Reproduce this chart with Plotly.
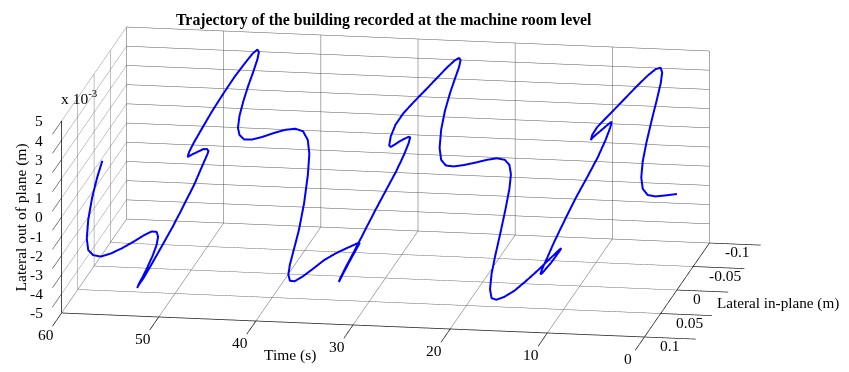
import plotly.graph_objects as go

# Time (s)
time_s = [
    0.00, 0.32, 0.65, 0.97, 1.30, 1.62, 1.95, 2.27, 2.59, 2.92, 3.24, 3.57, 3.89, 4.22, 4.54, 4.86,
    5.19, 5.51, 5.84, 6.16, 6.49, 6.81, 7.14, 7.46, 7.78, 8.11, 8.43, 8.76, 9.08, 9.41, 9.73, 10.05,
    10.38, 10.70, 11.03, 11.35, 11.68, 12.00, 12.32, 12.65, 12.97, 13.30, 13.62, 13.95, 14.27, 14.59, 14.92, 15.24,
    15.57, 15.89, 16.22, 16.54, 16.86, 17.19, 17.51, 17.84, 18.16, 18.49, 18.81, 19.14, 19.46, 19.78, 20.11, 20.43,
    20.76, 21.08, 21.41, 21.73, 22.05, 22.38, 22.70, 23.03, 23.35, 23.68, 24.00, 24.32, 24.65, 24.97, 25.30, 25.62,
    25.95, 26.27, 26.59, 26.92, 27.24, 27.57, 27.89, 28.22, 28.54, 28.86, 29.19, 29.51, 29.84, 30.16, 30.49, 30.81,
    31.14, 31.46, 31.78, 32.11, 32.43, 32.76, 33.08, 33.41, 33.73, 34.05, 34.38, 34.70, 35.03, 35.35, 35.68, 36.00,
    36.32, 36.65, 36.97, 37.30, 37.62, 37.95, 38.27, 38.59, 38.92, 39.24, 39.57, 39.89, 40.22, 40.54, 40.86, 41.19,
    41.51, 41.84, 42.16, 42.49, 42.81, 43.14, 43.46, 43.78, 44.11, 44.43, 44.76, 45.08, 45.41, 45.73, 46.05, 46.38,
    46.70, 47.03, 47.35, 47.68, 48.00, 48.32, 48.65, 48.97, 49.30, 49.62, 49.95, 50.27, 50.59, 50.92, 51.24, 51.57,
    51.89, 52.22, 52.54, 52.86, 53.19, 53.51, 53.84, 54.16, 54.49, 54.81, 55.14, 55.46, 55.78, 56.11, 56.43, 56.76,
    57.08, 57.41, 57.73, 58.05, 58.38, 58.70, 59.03, 59.35, 59.68, 60.00,
]

# Lateral in-plane displacement (m)
lateral_in_plane_m = [
    0, 0.0254, 0.047, 0.0613, 0.0664, 0.0613, 0.047, 0.0254, 0, -0.0254, -0.047, -0.0613, -0.0664, -0.0613, -0.047, -0.0254,
    0, 0.0254, 0.047, 0.0613, 0.0664, 0.0613, 0.047, 0.0254, 0, -0.0254, -0.047, -0.0613, -0.0664, -0.0613, -0.047, -0.0254,
    0, 0.0254, 0.047, 0.0613, 0.0664, 0.0613, 0.047, 0.0254, 0, -0.0254, -0.047, -0.0613, -0.0664, -0.0613, -0.047, -0.0254,
    0, 0.0254, 0.047, 0.0613, 0.0664, 0.0613, 0.047, 0.0254, 0, -0.0254, -0.047, -0.0613, -0.0664, -0.0613, -0.047, -0.0254,
    0, 0.0254, 0.047, 0.0613, 0.0664, 0.0613, 0.047, 0.0254, 0, -0.0254, -0.047, -0.0613, -0.0664, -0.0613, -0.047, -0.0254,
    0, 0.0254, 0.047, 0.0613, 0.0664, 0.0613, 0.047, 0.0254, 0, -0.0254, -0.047, -0.0613, -0.0664, -0.0613, -0.047, -0.0254,
    0, 0.0254, 0.047, 0.0613, 0.0664, 0.0613, 0.047, 0.0254, 0, -0.0254, -0.047, -0.0613, -0.0664, -0.0613, -0.047, -0.0254,
    0, 0.0254, 0.047, 0.0613, 0.0664, 0.0613, 0.047, 0.0254, 0, -0.0254, -0.047, -0.0613, -0.0664, -0.0613, -0.047, -0.0254,
    0, 0.0254, 0.047, 0.0613, 0.0664, 0.0613, 0.047, 0.0254, 0, -0.0254, -0.047, -0.0613, -0.0664, -0.0613, -0.047, -0.0254,
    0, 0.0254, 0.047, 0.0613, 0.0664, 0.0613, 0.047, 0.0254, 0, -0.0254, -0.047, -0.0613, -0.0664, -0.0613, -0.047, -0.0254,
    0, 0.0254, 0.047, 0.0613, 0.0664, 0.0613, 0.047, 0.0254, 0, -0.0254, -0.047, -0.0613, -0.0664, -0.0613, -0.047, -0.0254,
    0, 0.0254, 0.047, 0.0613, 0.0664, 0.0613, 0.047, 0.0254, 0, -0.0254,
]

# Lateral out-of-plane displacement (x 10^-3 m)
lateral_out_of_plane_e3 = [
    0.00, 0.54, 1.01, 1.43, 1.87, 2.33, 2.80, 3.30, 3.80, 4.22, 4.55, 4.75, 4.87, 4.92, 4.94, 4.95,
    4.95, 4.95, 4.93, 4.85, 4.58, 4.17, 3.92, 3.57, 3.16, 2.76, 2.39, 2.07, 1.65, 1.10, 0.55, 0.08,
    -0.39, -0.96, -1.54, -2.11, -2.55, -2.93, -3.24, -3.54, -3.86, -4.13, -4.38, -4.62, -4.80, -4.92, -4.96, -4.95,
    -4.87, -4.75, -4.55, -4.35, -4.15, -3.83, -3.38, -2.93, -2.38, -1.78, -1.25, -0.88, -0.52, -0.13, 0.29, 0.73,
    1.20, 1.69, 2.14, 2.53, 2.94, 3.43, 4.02, 4.48, 4.78, 4.92, 4.96, 4.97, 4.95, 4.92, 4.88, 4.85,
    4.84, 4.85, 4.80, 4.55, 4.05, 3.45, 3.02, 2.60, 2.15, 1.66, 1.22, 0.84, 0.40, -0.10, -0.62, -1.08,
    -1.58, -2.12, -2.62, -3.05, -3.43, -3.76, -3.98, -4.12, -4.24, -4.38, -4.56, -4.76, -4.90, -4.90, -4.74, -4.47,
    -4.20, -4.05, -3.92, -3.82, -3.68, -3.48, -3.32, -3.08, -2.70, -1.95, -1.00, -0.25, 0.35, 0.92, 1.40, 1.86,
    2.31, 2.72, 3.11, 3.45, 3.81, 4.04, 4.31, 4.55, 4.75, 4.86, 4.93, 4.96, 4.95, 4.86, 4.70, 4.52,
    4.25, 3.93, 3.55, 3.18, 2.81, 2.42, 2.11, 1.68, 1.18, 0.68, 0.15, -0.31, -0.65, -1.10, -1.70, -2.24,
    -2.77, -3.22, -3.63, -3.98, -4.22, -4.51, -4.68, -4.83, -4.93, -4.96, -4.96, -4.88, -4.76, -4.62, -4.47, -4.28,
    -4.00, -3.67, -3.31, -2.89, -2.51, -2.05, -1.42, -0.80, -0.38, -0.14,
]

time_ticks = [0, 10, 20, 30, 40, 50, 60]
in_plane_ticks = [-0.1, -0.05, 0, 0.05, 0.1]
in_plane_labels = ["-0.1", "-0.05", "0", "0.05", "0.1"]
out_plane_ticks = [-5, -4, -3, -2, -1, 0, 1, 2, 3, 4, 5]

FONT = "Liberation Serif"
FS = 15.5
T_MIN, T_MAX = 0, 60
Y_MIN, Y_MAX = -0.1, 0.1
Z_MIN, Z_MAX = -5, 5
SCALE = 3.397

fig = go.Figure(
    go.Scatter3d(
        x=time_s,
        y=lateral_in_plane_m,
        z=lateral_out_of_plane_e3,
        mode="lines",
        line=dict(color="rgb(0,0,255)", width=4),
        hoverinfo="skip",
        showlegend=False,
    )
)

def axis(rng, tickvals, ticklen):
    return dict(
        title=dict(text=""),
        range=rng,
        autorange=False,
        tickmode="array",
        tickvals=tickvals,
        ticktext=[" "] * len(tickvals),
        showticklabels=True,
        tickfont=dict(family=FONT, size=FS, color="rgba(0,0,0,0)"),
        showbackground=False,
        showgrid=True,
        gridcolor="rgb(85,85,85)",
        gridwidth=1,
        showline=True,
        linecolor="black",
        linewidth=1.5,
        zeroline=False,
        ticks="outside",
        ticklen=ticklen,
        tickwidth=1.5,
        tickcolor="black",
        showspikes=False,
    )

def lab(x, y, z, text, xanchor="center", yanchor="middle", xshift=0, yshift=0, angle=0, size=FS):
    return dict(
        x=x, y=y, z=z, text=text, showarrow=False,
        xanchor=xanchor, yanchor=yanchor, xshift=xshift, yshift=yshift,
        textangle=angle,
        font=dict(family=FONT, size=size, color="black"),
    )

scene_annotations = []
for t in time_ticks:
    scene_annotations.append(lab(t, Y_MAX, Z_MIN, str(t), xshift=-16, yshift=-22))
for v, s in zip(in_plane_ticks, in_plane_labels):
    scene_annotations.append(lab(T_MIN, v, Z_MIN, s, xanchor="left", xshift=14, yshift=-9))
for v in out_plane_ticks:
    scene_annotations.append(lab(T_MAX, Y_MAX, v, str(v), xanchor="right", xshift=-16.5))
scene_annotations.append(lab(35, Y_MAX, Z_MIN, "Time (s)", xshift=-14, yshift=-32))
scene_annotations.append(lab(T_MIN, 0, Z_MIN, "Lateral in-plane (m)", xanchor="left", xshift=38, yshift=-13, size=15.2))
scene_annotations.append(lab(T_MAX, Y_MAX, 0, "Lateral out of plane (m)", xshift=-41, yshift=-1, angle=-90))
scene_annotations.append(lab(T_MAX, Y_MAX, Z_MAX, "x 10<sup>-3</sup>", xanchor="left", xshift=-3, yshift=24))

fig.update_layout(
    width=849,
    height=372,
    paper_bgcolor="white",
    margin=dict(l=0, r=0, t=0, b=0),
    scene=dict(
        xaxis=axis([T_MIN, T_MAX], time_ticks, 52),
        yaxis=axis([Y_MIN, Y_MAX], in_plane_ticks, 55),
        zaxis=axis([Z_MIN, Z_MAX], out_plane_ticks, 55),
        aspectmode="manual",
        aspectratio=dict(x=1.0 * SCALE, y=0.661 * SCALE, z=0.335 * SCALE),
        camera=dict(
            eye=dict(x=-0.968, y=5.739, z=1.464),
            center=dict(x=0, y=0, z=0),
            up=dict(x=0, y=0, z=1),
            projection=dict(type="orthographic"),
        ),
        domain=dict(x=[0.0, 0.889], y=[0.065, 1.0]),
        bgcolor="white",
        annotations=scene_annotations,
    ),
    annotations=[
        dict(
            text="<b>Trajectory of the building recorded at the machine room level</b>",
            xref="paper", yref="paper",
            x=376 / 849, y=1 - 12 / 372,
            xanchor="center", yanchor="middle",
            showarrow=False,
            font=dict(family=FONT, size=15.8, color="black"),
        )
    ],
)

fig.write_html("out.html")
